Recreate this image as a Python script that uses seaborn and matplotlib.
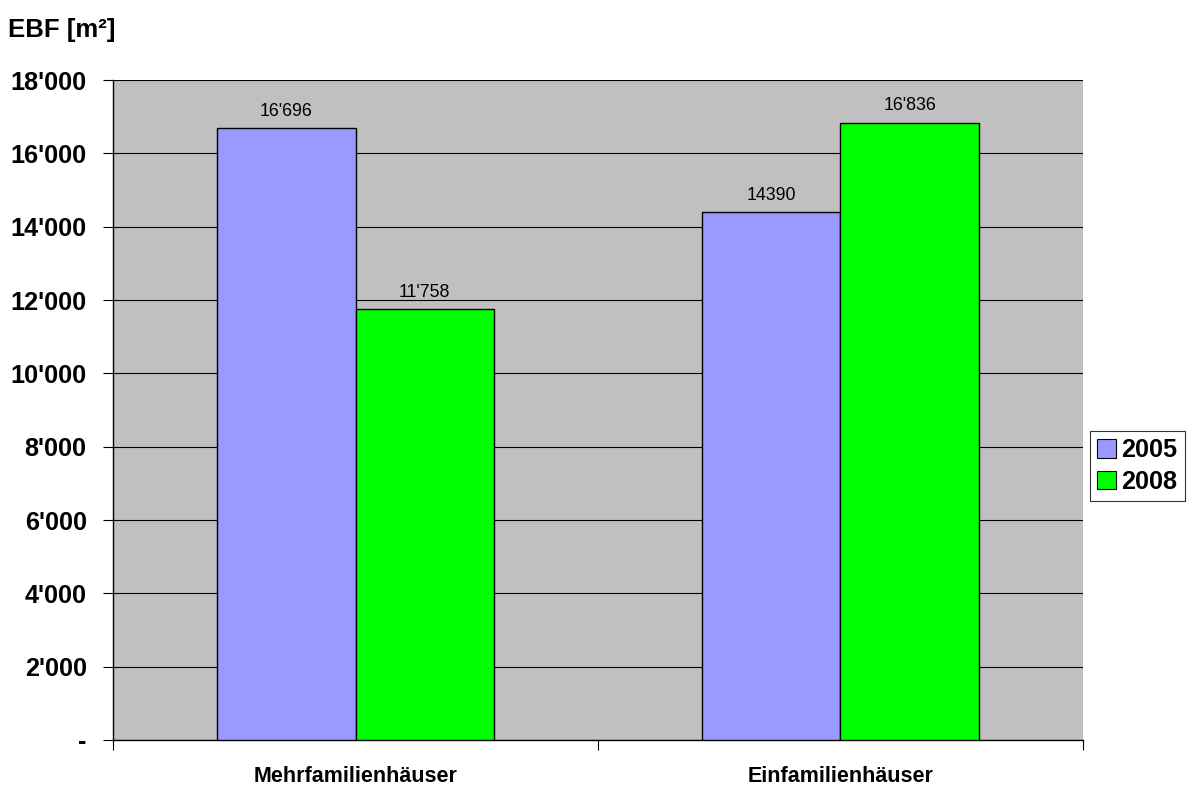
import matplotlib
matplotlib.use("Agg")
import matplotlib.pyplot as plt
import pandas as pd
import seaborn as sns
from matplotlib.ticker import FixedLocator, FuncFormatter

# Energiebezugsfläche nach Gebäudetyp
categories = ["Mehrfamilienhäuser", "Einfamilienhäuser"]
years = ["2005", "2008"]
values_2005 = [16696, 14390]
values_2008 = [11758, 16836]
labels_2005 = ["16'696", "14390"]
labels_2008 = ["11'758", "16'836"]
y_ticks = [0, 2000, 4000, 6000, 8000, 10000, 12000, 14000, 16000, 18000]
colors = {"2005": "#9999FF", "2008": "#00FF00"}

df = pd.DataFrame({
    "Typ": categories * 2,
    "Jahr": [years[0]] * 2 + [years[1]] * 2,
    "EBF": values_2005 + values_2008,
})

sns.set_theme(style="white")
plt.rcParams["font.family"] = ["Liberation Sans", "DejaVu Sans"]
plt.rcParams["text.color"] = "black"
plt.rcParams["xtick.color"] = "black"
plt.rcParams["ytick.color"] = "black"

fig = plt.figure(figsize=(11.9, 7.9), dpi=100)
ax = fig.add_axes([0.095, 0.0633, 0.815, 0.8354])
ax.set_facecolor("#C0C0C0")

sns.barplot(data=df, x="Typ", y="EBF", hue="Jahr", palette=colors,
            width=0.571, edgecolor="black", linewidth=1.0,
            errorbar=None, saturation=1, ax=ax, zorder=3)

for cont, labs in zip(ax.containers, [labels_2005, labels_2008]):
    ax.bar_label(cont, labels=labs, padding=6, fontsize=12.8, color="black")

ax.set_xlim(-0.5, 1.5)
ax.set_ylim(0, 18000)
ax.yaxis.set_major_locator(FixedLocator(y_ticks))
ax.yaxis.set_major_formatter(FuncFormatter(
    lambda v, p: "-" if v == 0 else f"{int(v):,}".replace(",", "'")))
ax.grid(axis="y", color="black", linewidth=0.8, zorder=0)
ax.set_axisbelow(True)

# category labels centred, ticks at category borders
ax.set_xticks([0, 1])
ax.set_xticklabels(categories, fontsize=15.5, fontweight="bold", color="black")
ax.tick_params(axis="x", length=0, pad=19)
ax.set_xticks([-0.5, 0.5, 1.5], minor=True)
ax.tick_params(axis="x", which="minor", length=7, width=0.8, color="black",
               direction="out", bottom=True)
ax.tick_params(axis="y", length=7, width=0.8, color="black", direction="out",
               left=True, labelsize=18.2, pad=12, labelcolor="black")
for t in ax.get_yticklabels():
    t.set_fontweight("bold")

ax.set_xlabel("")
ax.set_ylabel("")
for side in ["top", "right"]:
    ax.spines[side].set_visible(False)
for side in ["left", "bottom"]:
    ax.spines[side].set_color("black")
    ax.spines[side].set_linewidth(1.0)

fig.text(0.007, 0.962, "EBF [m²]", fontsize=18.5, fontweight="bold",
         ha="left", va="center", color="black")

leg = ax.legend(title=None, loc="center left", bbox_to_anchor=(1.007, 0.415),
                frameon=True, fancybox=False, shadow=False,
                prop={"size": 18.2, "weight": "bold"},
                handlelength=0.75, handleheight=0.75, handletextpad=0.2,
                borderpad=0.3, labelspacing=0.3, borderaxespad=0)
leg.get_frame().set_edgecolor("black")
leg.get_frame().set_linewidth(0.8)
for txt in leg.get_texts():
    txt.set_color("black")
for h in leg.legend_handles:
    h.set_edgecolor("black")
    h.set_linewidth(0.8)

fig.savefig("out.png", dpi=100, facecolor="white")
